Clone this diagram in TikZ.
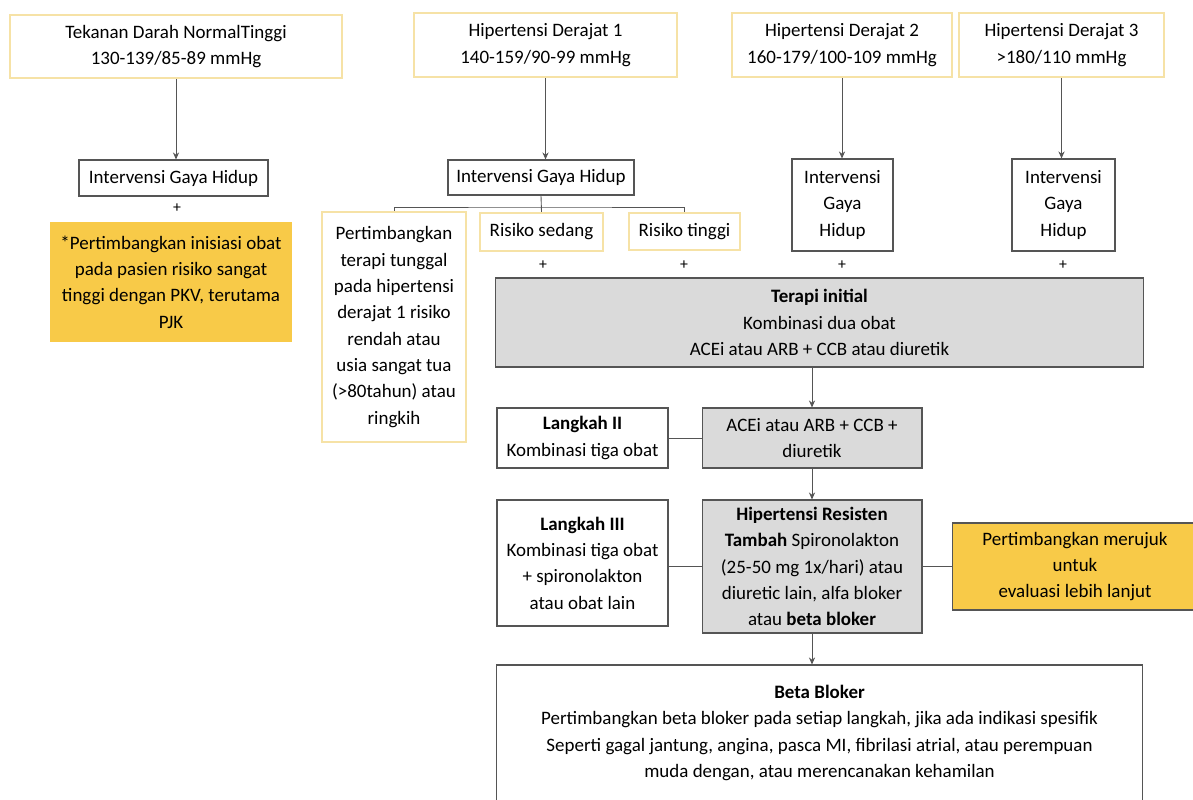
\documentclass[tikz,border=0pt]{standalone}
\usepackage{fontspec}
\setmainfont{Carlito}
\usetikzlibrary{arrows.meta}
\definecolor{paleyellow}{RGB}{246,226,166}
\definecolor{goldfill}{RGB}{248,202,72}
\definecolor{boxgray}{RGB}{218,218,218}
\definecolor{edgegray}{RGB}{85,85,85}

\begin{document}
\begin{tikzpicture}[x=0.02cm,y=-0.02cm,
  every node/.style={font=\fontsize{10.8}{15}\selectfont, align=center, inner sep=0pt, text=black},
  grade/.style={draw=paleyellow, line width=1.2pt, fill=white},
  whitebox/.style={draw=edgegray, line width=0.6pt, fill=white},
  graybox/.style={draw=edgegray, line width=0.6pt, fill=boxgray},
  goldbox/.style={fill=goldfill},
  plus/.style={font=\small},
  conn/.style={draw=edgegray, line width=0.5pt},
  arr/.style={conn, -{Stealth[length=4pt,width=3.5pt]}}]
  \useasboundingbox (0,0) rectangle (1193,800);

  \node[grade, minimum width=6.64cm, minimum height=1.26cm] (nt) at (176,46.5) {Tekanan Darah NormalTinggi\\130-139/85-89 mmHg};
  \node[grade, minimum width=5.26cm, minimum height=1.28cm] (nd1) at (545.5,45) {Hipertensi Derajat 1\\140-159/90-99 mmHg};
  \node[grade, minimum width=4.4cm, minimum height=1.28cm] (nd2) at (842,45) {Hipertensi Derajat 2\\160-179/100-109 mmHg};
  \node[grade, minimum width=4.1cm, minimum height=1.28cm] (nd3) at (1061.5,45) {Hipertensi Derajat 3\\>180/110 mmHg};

  \node[whitebox, minimum width=3.78cm, minimum height=0.72cm] (igh1) at (173.5,178) {Intervensi Gaya Hidup};
  \node[whitebox, minimum width=3.72cm, minimum height=0.7cm] (igh2) at (541,177.5) {Intervensi Gaya Hidup};
  \node[whitebox, minimum width=2.02cm, minimum height=1.84cm] (igh3) at (842.5,205) {Intervensi\\Gaya\\Hidup};
  \node[whitebox, minimum width=2.06cm, minimum height=1.84cm] (igh4) at (1063.5,205) {Intervensi\\Gaya\\Hidup};

  \node[plus] (p1) at (177,208) {+};
  \node[goldbox, minimum width=4.84cm, minimum height=2.4cm] (obat) at (171,282) {*Pertimbangkan inisiasi obat\\pada pasien risiko sangat\\tinggi dengan PKV, terutama\\PJK};

  \node[grade, minimum width=2.88cm, minimum height=4.6cm] (pert) at (394,327) {Pertimbangkan\\terapi tunggal\\pada hipertensi\\derajat 1 risiko\\rendah atau\\usia sangat tua\\(>80tahun) atau\\ringkih};
  \node[grade, minimum width=2.46cm, minimum height=0.76cm] (sedang) at (541.5,232) {Risiko sedang};
  \node[grade, minimum width=2.22cm, minimum height=0.74cm] (tinggi) at (684.5,231.5) {Risiko tinggi};

  \node[plus] (p2) at (543,265) {+};
  \node[plus] (p3) at (684,265) {+};
  \node[plus] (p4) at (842,265) {+};
  \node[plus] (p5) at (1063,265) {+};

  \node[graybox, minimum width=12.98cm, minimum height=1.78cm] (terapi) at (819.5,322.5) {\textbf{Terapi initial}\\Kombinasi dua obat\\ACEi atau ARB + CCB atau diuretik};

  \node[whitebox, minimum width=3.42cm, minimum height=1.2cm] (lk2) at (582.5,438) {\textbf{Langkah II}\\Kombinasi tiga obat};
  \node[graybox, minimum width=4.4cm, minimum height=1.2cm] (acei) at (812,438) {ACEi atau ARB + CCB +\\diuretik};
  \node[whitebox, minimum width=3.42cm, minimum height=2.52cm] (lk3) at (582.5,563) {\textbf{Langkah III}\\Kombinasi tiga obat\\+ spironolakton\\atau obat lain};
  \node[graybox, minimum width=4.4cm, minimum height=2.66cm] (hr) at (812,566.5) {\textbf{Hipertensi Resisten}\\\textbf{Tambah} Spironolakton\\(25-50 mg 1x/hari) atau\\diuretic lain, alfa bloker\\atau \textbf{beta bloker}};
  \node[goldbox, draw=edgegray, line width=0.6pt, minimum width=4.92cm, minimum height=1.74cm] (rujuk) at (1075,566.5) {Pertimbangkan merujuk\\untuk\\evaluasi lebih lanjut};

  \node[whitebox, minimum width=12.94cm, minimum height=2.72cm] (beta) at (819.5,733) {\textbf{Beta Bloker}\\Pertimbangkan beta bloker pada setiap langkah, jika ada indikasi spesifik\\Seperti gagal jantung, angina, pasca MI, fibrilasi atrial, atau perempuan\\muda dengan, atau merencanakan kehamilan};

  \draw[arr] (nt.south) -- (nt.south |- igh1.north);
  \draw[arr] (nd1.south) -- (nd1.south |- igh2.north);
  \draw[arr] (nd2.south) -- (nd2.south |- igh3.north);
  \draw[arr] (nd3.south) -- (nd3.south |- igh4.north);

  \coordinate (fork) at (541,207);
  \draw[conn] (igh2.south) -- (sedang.north);
  \draw[conn] (pert.north) |- (fork) -| (tinggi.north);

  \draw[arr] (terapi.south -| acei.north) -- (acei.north);
  \draw[conn] (lk2) -- (acei);
  \draw[arr] (acei) -- (hr);
  \draw[conn] (lk3.east |- hr.west) -- (hr.west);
  \draw[conn] (hr) -- (rujuk);
  \draw[arr] (hr.south) -- (hr.south |- beta.north);
\end{tikzpicture}
\end{document}
